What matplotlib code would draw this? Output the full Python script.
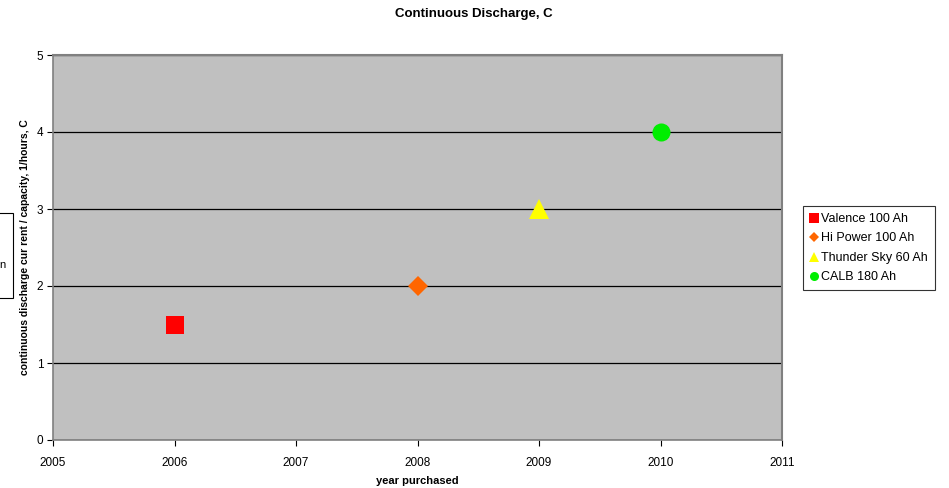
import matplotlib
matplotlib.use("Agg")
import matplotlib.pyplot as plt
from matplotlib.patches import Rectangle

plt.rcParams['font.family'] = ['Liberation Sans', 'DejaVu Sans']

series_names = ["Valence 100 Ah", "Hi Power 100 Ah", "Thunder Sky 60 Ah", "CALB 180 Ah"]
years = [2006, 2008, 2009, 2010]
c_rates = [1.5, 2, 3, 4]
markers = ["s", "D", "^", "o"]
colors = ["#FF0000", "#FF6600", "#FFFF00", "#00EE00"]
sizes = [13, 10, 14, 13]

fig = plt.figure(figsize=(9.49, 4.88), dpi=100)
ax = fig.add_axes([53/949, 48/488, 729/949, 385/488])
ax.set_facecolor("#C0C0C0")

for name, x, y, m, c, s in zip(series_names, years, c_rates, markers, colors, sizes):
    ax.plot([x], [y], linestyle="none", marker=m, color=c, markersize=s,
            markeredgewidth=0, label=name, zorder=3)

ax.set_xlim(2005, 2011)
ax.set_ylim(0, 5)
ax.set_xticks(range(2005, 2012))
ax.set_yticks(range(0, 6))
ax.yaxis.grid(True, color="black", linewidth=0.9)
ax.set_axisbelow(True)
ax.tick_params(direction="out", length=4, labelsize=8.5, colors="black")
ax.tick_params(axis="x", pad=8)
ax.tick_params(axis="y", pad=3)
for side in ["top", "right"]:
    ax.spines[side].set_color("#808080")
    ax.spines[side].set_linewidth(1.5)
for side in ["left", "bottom"]:
    ax.spines[side].set_color("#808080")
    ax.spines[side].set_linewidth(1.2)

ax.set_xlabel("year purchased", fontsize=8, fontweight="bold", labelpad=5)
ax.set_ylabel("continuous discharge cur rent / capacity, 1/hours, C", fontsize=7.5,
              fontweight="bold", labelpad=5)
fig.text(474/949, 1 - 14/488, "Continuous Discharge, C", ha="center", va="center",
         fontsize=9.5, fontweight="bold")

leg = ax.legend(loc="upper left", bbox_to_anchor=(803/949, 1 - 206/488),
                bbox_transform=fig.transFigure, fontsize=9, frameon=True,
                fancybox=False, edgecolor="black", markerscale=0.5,
                handlelength=0.6, handletextpad=0.3, borderpad=0.55,
                labelspacing=0.6, borderaxespad=0)
leg.get_frame().set_linewidth(0.8)

# partially visible text box at the left edge
fig.patches.append(Rectangle((-5/949, 1 - 298/488), 18/949, 85/488,
                             transform=fig.transFigure, fill=False,
                             edgecolor="black", linewidth=0.8))
fig.text(2/949, 1 - 265/488, "n", fontsize=8, ha="center", va="center")

fig.savefig("out.png", dpi=100)
